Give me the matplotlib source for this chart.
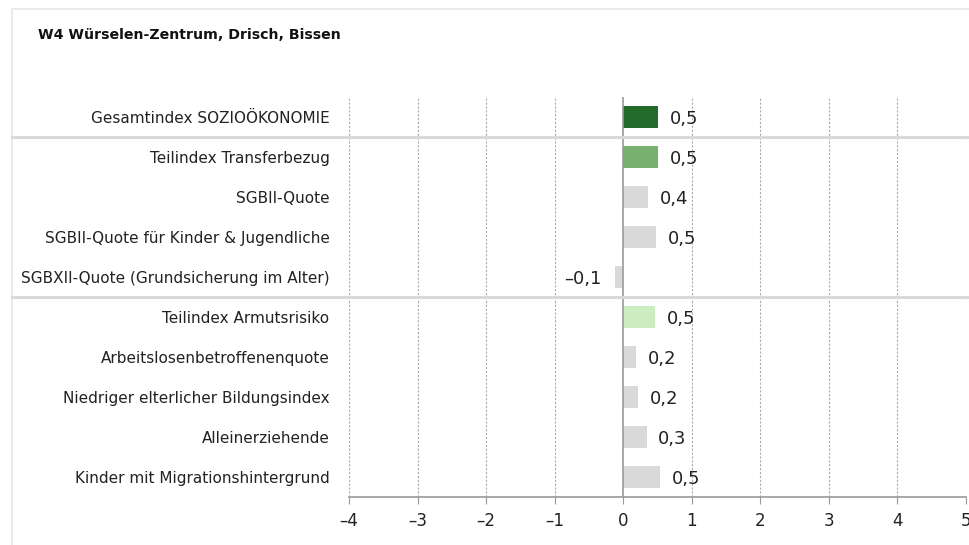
import matplotlib.pyplot as plt
from matplotlib.lines import Line2D
from matplotlib.patches import Rectangle
import matplotlib.transforms as mtransforms

# data
labels = ['Gesamtindex SOZIOÖKONOMIE', 'Teilindex Transferbezug', 'SGBII-Quote',
          'SGBII-Quote für Kinder & Jugendliche', 'SGBXII-Quote (Grundsicherung im Alter)',
          'Teilindex Armutsrisiko', 'Arbeitslosenbetroffenenquote',
          'Niedriger elterlicher Bildungsindex', 'Alleinerziehende',
          'Kinder mit Migrationshintergrund']
values = [0.51, 0.51, 0.36, 0.48, -0.12, 0.47, 0.19, 0.22, 0.34, 0.54]
colors = ['#236b2a', '#77b06f', '#d9d9d9', '#d9d9d9', '#d9d9d9',
          '#ccedc0', '#d9d9d9', '#d9d9d9', '#d9d9d9', '#d9d9d9']
xticks = [-4, -3, -2, -1, 0, 1, 2, 3, 4, 5]
title = 'W4 Würselen-Zentrum, Drisch, Bissen'

plt.rcParams['font.family'] = ['DejaVu Sans']

fig = plt.figure(figsize=(9.7, 5.45), dpi=100)
ax = fig.add_axes([349/970, 1-497/545, 617/970, 400/545])

# outer frame
fig.add_artist(Rectangle((12/970, -0.05), 1.0, 1-9/545+0.05, transform=fig.transFigure,
                         fill=False, edgecolor='#e6e6e6', linewidth=1.2))

ypos = list(range(len(labels)))
ax.barh(ypos, values, height=0.55, color=colors, zorder=3)

for y, v in zip(ypos, values):
    txt = ('%.1f' % v).replace('.', ',').replace('-', '\u2013')
    if v >= 0:
        ax.text(v + 0.17, y + 0.05, txt, ha='left', va='center', fontsize=13, color='#222222')
    else:
        ax.text(v - 0.2, y + 0.05, txt, ha='right', va='center', fontsize=13, color='#222222')

ax.set_xlim(-4, 5)
ax.set_ylim(9.5, -0.5)
ax.set_xticks(xticks)
ax.set_xticklabels([str(t).replace('-', '\u2013') for t in xticks], fontsize=12, color='#222222')
ax.set_yticks(ypos)
ax.set_yticklabels(labels, fontsize=11, color='#222222')
ax.tick_params(axis='y', length=0, pad=14)
ax.tick_params(axis='x', length=5, color='#999999', pad=6)

for t in xticks:
    if t == 0:
        ax.axvline(0, color='#999999', linewidth=1.2, zorder=4)
    else:
        ax.axvline(t, color='#aaaaaa', linewidth=0.8, linestyle=(0, (2, 1.5)), zorder=1)

for s in ['top', 'right', 'left']:
    ax.spines[s].set_visible(False)
ax.spines['bottom'].set_color('#999999')
ax.spines['bottom'].set_linewidth(1.2)

# group separators
trans = mtransforms.blended_transform_factory(fig.transFigure, ax.transData)
for yy in [0.5, 4.5]:
    fig.add_artist(Line2D([12/970, 1.0], [yy, yy], transform=trans,
                          color='#d9d9d9', linewidth=2.2))

fig.text(38/970, 1-35/545, title, fontsize=10.2, fontweight='bold', ha='left', va='center',
         color='#111111')

fig.savefig('out.png', dpi=100)
